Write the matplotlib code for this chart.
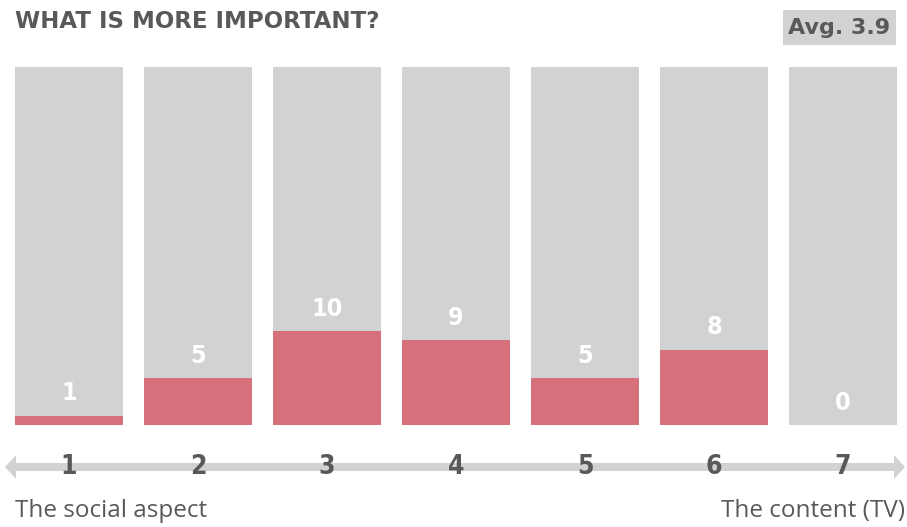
import matplotlib.pyplot as plt
from matplotlib.patches import Polygon, Rectangle

# Survey answers: 1 = social aspect ... 7 = content (TV)
scale = [1, 2, 3, 4, 5, 6, 7]
counts = [1, 5, 10, 9, 5, 8, 0]
average = 3.9
title = 'WHAT IS MORE IMPORTANT?'
left_label = 'The social aspect'
right_label = 'The content (TV)'

GRAY = '#d1d2d4'
RED = '#d6707a'
DARK = '#595959'

W, H = 907, 527
fig = plt.figure(figsize=(W / 100, H / 100), dpi=100)

# overlay in pixel units for the decorations
ov = fig.add_axes([0, 0, 1, 1])
ov.set_xlim(0, W)
ov.set_ylim(H, 0)
ov.axis('off')

# bar panel: bars are 108 px wide on a 129 px pitch, 67..425 px tall
total = sum(counts)
ax = fig.add_axes([0, (H - 425) / H, 1, 358 / H])
ax.set_xlim(-69 / 129, (W - 69) / 129)
ax.set_ylim(0, total)
ax.axis('off')

xs = range(len(scale))
ax.bar(xs, [total] * len(scale), width=108 / 129, color=GRAY, zorder=1)
ax.bar(xs, counts, width=108 / 129, color=RED, zorder=2)

for x, c in zip(xs, counts):
    ax.text(x, c + 2.35, str(c), ha='center', va='center', color='white',
            fontsize=18, fontweight='bold', family='DejaVu Sans',
            fontstretch='condensed', zorder=3)

# double-headed scale arrow
y0, hw, hh = 467, 4, 12
ov.add_patch(Polygon([(5, y0), (16, y0 - hh), (16, y0 - hw), (894, y0 - hw),
                      (894, y0 - hh), (905, y0), (894, y0 + hh), (894, y0 + hw),
                      (16, y0 + hw), (16, y0 + hh)], closed=True,
                     facecolor=GRAY, edgecolor='none', zorder=1))

for x, s in zip(xs, scale):
    ax.text(x, -(467 - 425) / (358 / total), str(s), ha='center', va='center',
            color=DARK, fontsize=19, fontweight='bold', family='DejaVu Sans',
            fontstretch='condensed', clip_on=False, zorder=5)

ov.text(15, 511, left_label, ha='left', va='center', color=DARK,
        fontsize=17.5, family='Open Sans')
ov.text(905, 511, right_label, ha='right', va='center', color=DARK,
        fontsize=17.5, family='Open Sans')

ov.text(15, 21, title, ha='left', va='center', color=DARK,
        fontsize=16.5, fontweight='bold', family='DejaVu Sans')

ov.add_patch(Rectangle((783, 10), 113, 35, facecolor=GRAY, edgecolor='none'))
ov.text(839.5, 28, f'Avg. {average}', ha='center', va='center', color=DARK,
        fontsize=16, fontweight='bold', family='DejaVu Sans')

fig.savefig('out.png', dpi=100)
